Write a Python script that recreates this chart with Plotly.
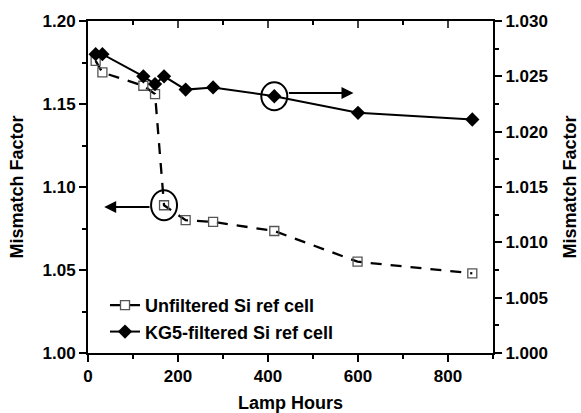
import plotly.graph_objects as go

hours_unf = [17, 32, 123, 149, 169, 217, 278, 414, 599, 854]
mf_unf = [1.176, 1.169, 1.161, 1.156, 1.089, 1.080, 1.079, 1.0735, 1.055, 1.048]

hours_kg5 = [17, 32, 123, 149, 169, 217, 278, 414, 600, 854]
mf_kg5 = [1.0270, 1.0270, 1.0250, 1.0243, 1.0250, 1.0238, 1.0240, 1.0232, 1.0217, 1.0211]

FONT = "Liberation Sans, Arial, sans-serif"

fig = go.Figure()
fig.add_trace(go.Scatter(
    x=hours_unf, y=mf_unf, name="<b>Unfiltered Si ref cell</b>",
    mode="lines+markers", yaxis="y",
    line=dict(color="black", width=2.3, dash="11px,9px"),
    marker=dict(symbol="square-open", size=9, color="#555555", line=dict(width=1.3, color="#555555")),
))
fig.add_trace(go.Scatter(
    x=hours_kg5, y=mf_kg5, name="<b>KG5-filtered Si ref cell</b>",
    mode="lines+markers", yaxis="y2",
    line=dict(color="black", width=2),
    marker=dict(symbol="diamond", size=11, color="black"),
))

tickfont = dict(family=FONT, size=17, color="black", weight="bold")
titlefont = dict(family=FONT, size=18, color="black", weight="bold")

fig.update_layout(
    width=581, height=413,
    margin=dict(l=88, r=88, t=21, b=60),
    paper_bgcolor="white", plot_bgcolor="white",
    showlegend=True,
    legend=dict(x=0.042, y=0.104, xanchor="left", yanchor="middle",
                font=dict(family=FONT, size=18, color="black"),
                bgcolor="rgba(0,0,0,0)", tracegroupgap=0),
    xaxis=dict(range=[0, 900], dtick=200, tick0=0, showline=True, linecolor="black", linewidth=2,
               ticks="outside", ticklen=7, tickwidth=2, tickcolor="black", automargin=False,
               minor=dict(ticks="outside", dtick=100, ticklen=4, tickwidth=2, tickcolor="black"),
               showgrid=False, zeroline=False, tickfont=tickfont,
               title=dict(text="Lamp Hours", font=titlefont, standoff=18)),
    xaxis2=dict(range=[0, 900], overlaying="x", side="top", anchor="y", showline=True,
                linecolor="black", linewidth=2, ticks="inside", ticklen=7, tickwidth=2,
                dtick=200, tick0=0, showticklabels=False, showgrid=False, zeroline=False,
                automargin=False,
                minor=dict(ticks="inside", dtick=100, ticklen=4, tickwidth=2, tickcolor="black")),
    yaxis=dict(range=[1.0, 1.2], dtick=0.05, tick0=1.0, tickformat=".2f", showline=True,
               linecolor="black", linewidth=2, ticks="outside", ticklen=7, tickwidth=2,
               tickcolor="black", automargin=False,
               minor=dict(ticks="outside", dtick=0.025, ticklen=4, tickwidth=2, tickcolor="black"),
               showgrid=False, zeroline=False, tickfont=tickfont,
               title=dict(text="Mismatch Factor", font=titlefont, standoff=14)),
    yaxis2=dict(range=[1.0, 1.03], dtick=0.005, tick0=1.0, tickformat=".3f", overlaying="y",
                side="right", showline=True, linecolor="black", linewidth=2, ticks="outside",
                ticklen=7, tickwidth=2, tickcolor="black", automargin=False,
                minor=dict(ticks="outside", dtick=0.0025, ticklen=4, tickwidth=2, tickcolor="black"),
                showgrid=False, zeroline=False, tickfont=tickfont,
                title=dict(text="Mismatch Factor", font=titlefont, standoff=16)),
)

# dummy trace for top axis so it renders
fig.add_trace(go.Scatter(x=[0], y=[1.0], xaxis="x2", yaxis="y", mode="markers",
                         marker=dict(opacity=0), showlegend=False, hoverinfo="skip"))

# circles around highlighted points
fig.add_shape(type="circle", xref="x", yref="y", xsizemode="pixel", ysizemode="pixel",
              xanchor=hours_unf[4], yanchor=mf_unf[4], x0=-13, x1=13, y0=-15, y1=15,
              line=dict(color="black", width=2))
fig.add_shape(type="circle", xref="x", yref="y2", xsizemode="pixel", ysizemode="pixel",
              xanchor=hours_kg5[7], yanchor=mf_kg5[7], x0=-13, x1=13, y0=-14, y1=14,
              line=dict(color="black", width=2))

# arrows
fig.add_annotation(x=36, y=1.088, ax=140, ay=1.088, xref="x", yref="y", axref="x", ayref="y",
                   showarrow=True, arrowhead=2, arrowsize=1.2, arrowwidth=2, arrowcolor="black", text="")
fig.add_annotation(x=590, y=1.0235, ax=443, ay=1.0235, xref="x", yref="y2", axref="x", ayref="y2",
                   showarrow=True, arrowhead=2, arrowsize=1.2, arrowwidth=2, arrowcolor="black", text="")

fig.write_html("out.html")
